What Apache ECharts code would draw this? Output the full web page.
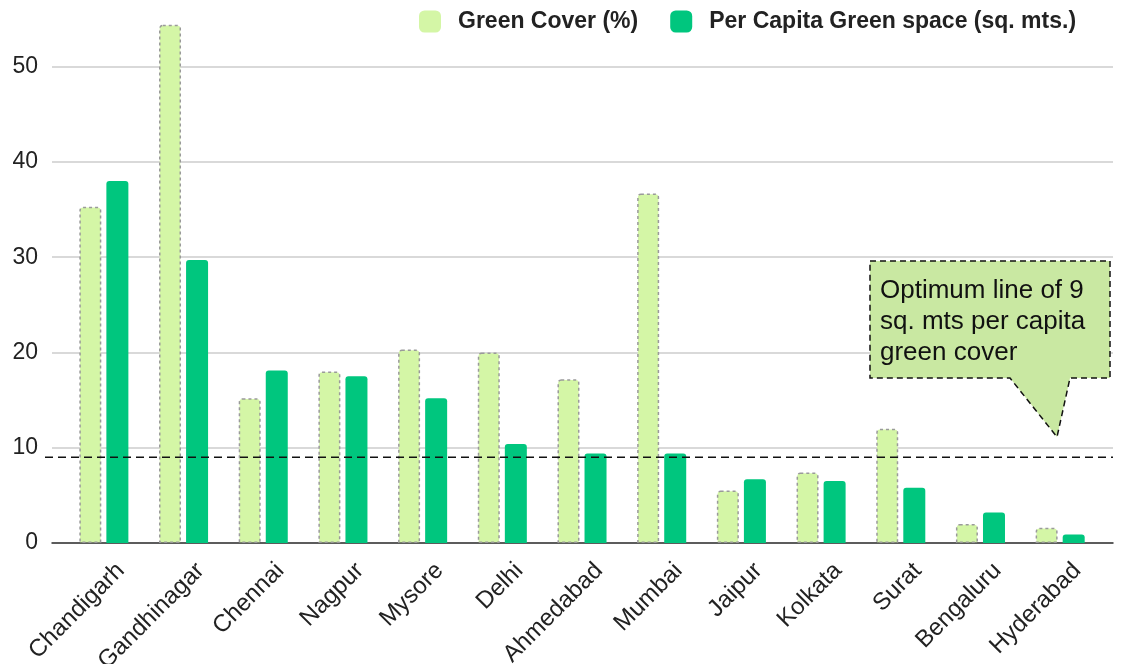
<!DOCTYPE html>
<html>
<head>
<meta charset="utf-8">
<title>Green cover and per capita green space in Indian cities</title>
<script src="https://cdn.jsdelivr.net/npm/echarts@6/dist/echarts.min.js"></script>
<style>
  html, body { margin: 0; padding: 0; background: #ffffff; }
  #chart { width: 1121px; height: 664px; }
</style>
</head>
<body>
<div id="chart"></div>
<script>
// City names along the category axis
const cities = ['Chandigarh', 'Gandhinagar', 'Chennai', 'Nagpur', 'Mysore', 'Delhi',
  'Ahmedabad', 'Mumbai', 'Jaipur', 'Kolkata', 'Surat', 'Bengaluru', 'Hyderabad'];

// Green cover of each city, in percent
const greenCover = [35.3, 54.4, 15.2, 18.0, 20.3, 20.0, 17.2, 36.7, 5.5, 7.4, 12.0, 2.0, 1.6];

// Per capita green space, in square metres
const perCapita = [38.0, 29.7, 18.1, 17.5, 15.2, 10.4, 9.4, 9.4, 6.7, 6.5, 5.8, 3.2, 0.9];

// Recommended minimum of green space per person (sq. m)
const optimumLevel = 9;

// Value axis range and step (labels and gridlines stop at 50)
const yMin = 0;
const yMax = 57;
const yStep = 10;

const seriesNames = ['Green Cover (%)', 'Per Capita Green space (sq. mts.)'];
const noteLines = ['Optimum line of 9', 'sq. mts per capita', 'green cover'];

const FONT = '"Liberation Sans", Arial, Helvetica, sans-serif';

const chart = echarts.init(document.getElementById('chart'), null, { renderer: 'canvas' });

const plotTop = 0;
const plotBottom = 121;

// every grid shares the same vertical extent; labels may run to the canvas edge
const makeGrid = (left, right) => ({
  left: left, right: right, top: plotTop, bottom: plotBottom, outerBoundsMode: 'none'
});

const hiddenY = (idx) => ({
  gridIndex: idx, type: 'value', min: yMin, max: yMax, interval: yStep, show: false
});

chart.setOption({
  animation: false,
  backgroundColor: '#ffffff',
  legend: {
    data: seriesNames,
    left: 419,
    top: 10,
    padding: 0,
    icon: 'roundRect',
    itemWidth: 22,
    itemHeight: 22,
    itemGap: 32,
    itemStyle: { borderWidth: 0 },
    textStyle: {
      fontFamily: FONT, fontSize: 23, fontWeight: 'bold', color: '#222222',
      padding: [0, 0, 0, 12]
    }
  },
  grid: [
    makeGrid(52, 8),   // frame: gridlines, value labels, baseline
    makeGrid(64, 21),  // bars
    makeGrid(45, 8),   // reference line
    makeGrid(81, 4)    // city names, set slightly right of the bar pairs
  ],
  xAxis: [
    {
      gridIndex: 0, type: 'value', min: 0, max: 1,
      axisLine: { show: true, lineStyle: { color: '#333333', width: 1.5 } },
      axisTick: { show: false }, axisLabel: { show: false }, splitLine: { show: false }
    },
    {
      gridIndex: 1, type: 'category', data: cities,
      axisLine: { show: false }, axisTick: { show: false }, axisLabel: { show: false }
    },
    { gridIndex: 2, type: 'value', min: 0, max: 1, show: false },
    {
      gridIndex: 3, type: 'category', data: cities,
      axisLine: { show: false }, axisTick: { show: false },
      axisLabel: {
        interval: 0, rotate: 45, margin: 24,
        fontFamily: FONT, fontSize: 24, color: '#222222'
      }
    }
  ],
  yAxis: [
    {
      gridIndex: 0, type: 'value', min: yMin, max: yMax, interval: yStep,
      axisLine: { show: false }, axisTick: { show: false },
      axisLabel: {
        margin: 14, fontFamily: FONT, fontSize: 23, color: '#222222', showMaxLabel: false
      },
      splitLine: { showMaxLine: false, lineStyle: { color: '#cccccc', width: 1.5 } }
    },
    hiddenY(1),
    hiddenY(2),
    hiddenY(3)
  ],
  series: [
    {
      name: seriesNames[0], type: 'bar', xAxisIndex: 1, yAxisIndex: 1,
      data: greenCover, barWidth: 22, barGap: '23%',
      itemStyle: {
        color: '#d4f6a6', borderColor: '#9a9a9a', borderWidth: 1.5,
        borderType: [3, 3], borderRadius: [3, 3, 0, 0]
      }
    },
    {
      name: seriesNames[1], type: 'bar', xAxisIndex: 1, yAxisIndex: 1,
      data: perCapita, barWidth: 22,
      itemStyle: { color: '#00c67e', borderRadius: [3, 3, 0, 0] }
    },
    {
      name: 'optimum', type: 'line', xAxisIndex: 2, yAxisIndex: 2,
      data: [[0, optimumLevel], [1, optimumLevel]],
      symbol: 'none', silent: true, z: 5,
      lineStyle: { color: '#111111', width: 1.5, type: [8, 5] }
    }
  ],
  graphic: [
    {
      type: 'polygon', z: 10,
      shape: {
        points: [[870, 261], [1110, 261], [1110, 378], [1070, 378],
                 [1057, 437], [1010, 378], [870, 378]]
      },
      style: { fill: '#c9e8a2', stroke: '#111111', lineWidth: 1.5, lineDash: [6, 4] }
    },
    {
      type: 'text', z: 11, left: 880, top: 275,
      style: {
        text: noteLines.join('\n'),
        font: '26px ' + FONT, fill: '#111111', lineHeight: 31
      }
    }
  ]
});
</script>
</body>
</html>
